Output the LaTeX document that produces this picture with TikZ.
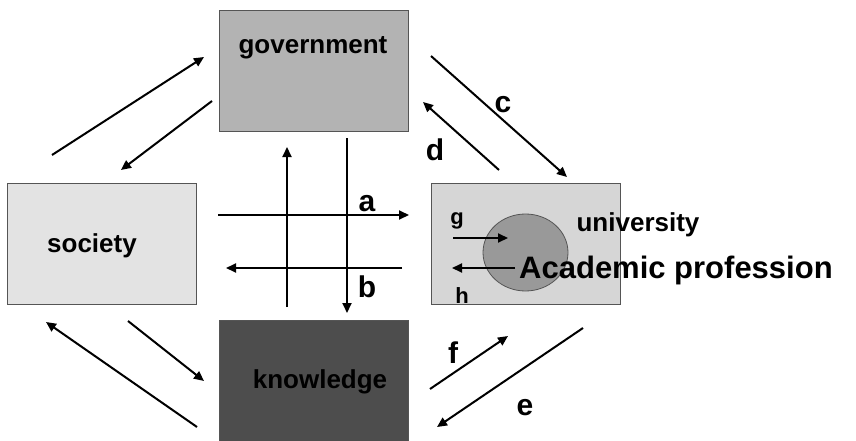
\documentclass[tikz,border=0pt]{standalone}
\usepackage{fontspec}
\setmainfont{Liberation Sans}
\usepackage{tikz}
\usetikzlibrary{shapes,arrows.meta,positioning}

\definecolor{govgray}{HTML}{B3B3B3}
\definecolor{socgray}{HTML}{E3E3E3}
\definecolor{unigray}{HTML}{D6D6D6}
\definecolor{knowgray}{HTML}{4D4D4D}
\definecolor{profgray}{HTML}{999999}
\definecolor{edgegray}{HTML}{555555}

\begin{document}
\begin{tikzpicture}[
    x=1pt, y=-1pt,
    box/.style={rectangle, draw=edgegray, line width=0.8pt, minimum width=189pt, minimum height=121pt, inner sep=0pt},
    lbl/.style={font=\fontsize{26}{30}\selectfont\bfseries, inner sep=0pt},
    letter/.style={font=\fontsize{30}{34}\selectfont\bfseries, inner sep=0pt},
    small/.style={font=\fontsize{22}{26}\selectfont\bfseries, inner sep=0pt},
    arr/.style={-{Triangle[length=10pt,width=9pt]}, line width=2pt}
]
    \useasboundingbox (0,0) rectangle (856,441);

    % Boxes
    \node[box, fill=govgray] (gov) at (313.5,70.5) {};
    \node[box, fill=socgray] (soc) at (101.5,244) {};
    \node[box, fill=unigray] (uni) at (525.5,244) {};
    \node[box, fill=knowgray, minimum height=122pt] (know) at (313.5,381) {};
    \node[ellipse, draw=edgegray, line width=0.8pt, fill=profgray, minimum width=85pt, minimum height=77pt, inner sep=0pt] (prof) at (525.5,252.5) {};

    % Texts
    \node[lbl] (gov_txt) at (313,48) {government};
    \node[lbl] (soc_txt) at (92,246) {society};
    \node[lbl] (uni_txt) at (638,225) {university};
    \node[lbl, text=black] (know_txt) at (320,382) {knowledge};
    \node[font=\fontsize{31}{36}\selectfont\bfseries, inner sep=0pt, anchor=west] (prof_txt) at (519,270) {Academic profession};

    % Free ends of the arrows
    \coordinate (sg1) at (52,155);   \coordinate (sg2) at (204,57);
    \coordinate (gs1) at (212,101);  \coordinate (gs2) at (121,170);
    \coordinate (sk1) at (128,321);  \coordinate (sk2) at (204,381);
    \coordinate (ks1) at (197,427);  \coordinate (ks2) at (46,322);
    \coordinate (c1) at (431,56);    \coordinate (c2) at (567,177);
    \coordinate (d1) at (499,170);   \coordinate (d2) at (423,102);
    \coordinate (up1) at (287,307);  \coordinate (up2) at (287,147);
    \coordinate (dn1) at (347,138);  \coordinate (dn2) at (347,313);
    \coordinate (a1) at (218,215);   \coordinate (a2) at (409,215);
    \coordinate (b1) at (402,268);   \coordinate (b2) at (226,268);
    \coordinate (f1) at (430,389);   \coordinate (f2) at (508,336);
    \coordinate (e1) at (583,328);   \coordinate (e2) at (437,427);
    \coordinate (g1) at (453,238);   \coordinate (g2) at (508,238);
    \coordinate (h1) at (515,268);   \coordinate (h2) at (452,268);

    % Connections
    \draw[arr] (sg1) -- (sg2);
    \draw[arr] (gs1) -- (gs2);
    \draw[arr] (sk1) -- (sk2);
    \draw[arr] (ks1) -- (ks2);
    \draw[arr] (c1) -- (c2);
    \draw[arr] (d1) -- (d2);
    \draw[arr] (up1) -- (up2);
    \draw[arr] (dn1) -- (dn2);
    \draw[arr] (a1) -- (a2);
    \draw[arr] (b1) -- (b2);
    \draw[arr] (f1) -- (f2);
    \draw[arr] (e1) -- (e2);
    \draw[arr] (g1) -- (g2);
    \draw[arr] (h1) -- (h2);

    % Letters
    \node[letter] (lbl_a) at (367,204) {a};
    \node[letter] (lbl_b) at (367,287) {b};
    \node[letter] (lbl_c) at (503,105) {c};
    \node[letter] (lbl_d) at (435,150) {d};
    \node[letter] (lbl_e) at (525,408) {e};
    \node[letter] (lbl_f) at (453,353) {f};
    \node[small] (lbl_g) at (457,221) {g};
    \node[small] (lbl_h) at (462,296) {h};
\end{tikzpicture}
\end{document}
